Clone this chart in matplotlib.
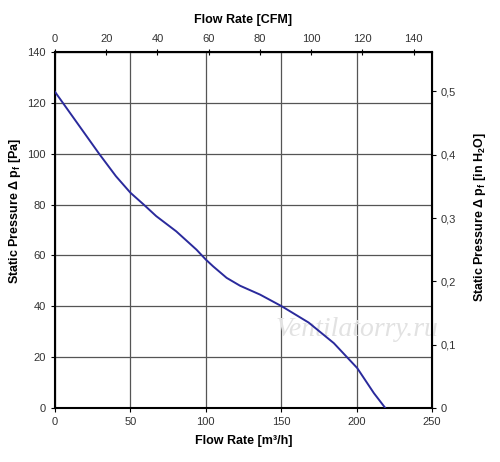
import numpy as np
import matplotlib.pyplot as plt

# fan curve: flow [m3/h] vs static pressure [Pa]
flow_m3h = [0, 29.3, 40.4, 50, 58.9, 67.1, 80.4, 93.8, 100, 104.9, 113.8,
            122.7, 136, 150.4, 168.2, 184.9, 200.4, 211.5, 219]
pressure_pa = [124.4, 100, 91.2, 84.7, 80, 75.5, 69.5, 62.3, 58.4, 55.7, 51.2,
               48.1, 44.6, 40, 33.6, 25.5, 15.7, 5.8, 0]

x_ticks = [0, 50, 100, 150, 200, 250]
y_ticks = [0, 20, 40, 60, 80, 100, 120, 140]
cfm_ticks = [0, 20, 40, 60, 80, 100, 120, 140]
inh2o_ticks = [0, 0.1, 0.2, 0.3, 0.4, 0.5]

M3H_PER_CFM = 1.699
PA_PER_INH2O = 249.09

plt.rcParams['font.family'] = ['Liberation Sans', 'DejaVu Sans']

fig = plt.figure(figsize=(5, 4.62), dpi=100)
ax = fig.add_axes([0.11, 0.117, 0.754, 0.77])

ax.plot(flow_m3h, pressure_pa, color='#2a2a9c', lw=1.4, zorder=3)
ax.set_xlim(0, 250)
ax.set_ylim(0, 140)
ax.set_xticks(x_ticks)
ax.set_yticks(y_ticks)
ax.grid(True, color='#555555', lw=0.9)
for s in ax.spines.values():
    s.set_linewidth(1.5)
ax.tick_params(direction='out', length=3, labelsize=8, labelcolor='#333333')
ax.set_xlabel('Flow Rate [m³/h]', fontsize=9, fontweight='bold', labelpad=6)
ax.set_ylabel(r'Static Pressure Δ p$_\mathregular{f}$ [Pa]', fontsize=9,
              fontweight='bold')
ax.yaxis.set_label_coords(-0.085, 0.555)

top = ax.secondary_xaxis('top', functions=(lambda v: v / M3H_PER_CFM,
                                           lambda v: v * M3H_PER_CFM))
top.set_xticks(cfm_ticks)
top.tick_params(direction='inout', length=5, labelsize=8, labelcolor='#333333')
top.set_xlabel('Flow Rate [CFM]', fontsize=9, fontweight='bold', labelpad=8)

right = ax.secondary_yaxis('right', functions=(lambda v: v / PA_PER_INH2O,
                                               lambda v: v * PA_PER_INH2O))
right.set_yticks(inh2o_ticks)
right.set_yticklabels([('%g' % t).replace('.', ',') for t in inh2o_ticks])
right.tick_params(direction='out', length=3, labelsize=8, labelcolor='#333333')
fig.text(0.961, 0.53,
         r'Static Pressure Δ p$_\mathregular{f}$ [in H$_\mathregular{2}$O]',
         fontsize=9, fontweight='bold', rotation=90, ha='center', va='center')

# watermark
ax.text(0.80, 0.22, 'Ventilatorry.ru', transform=ax.transAxes, fontsize=20,
        style='italic', family='Liberation Serif', color='#e2e2e2',
        ha='center', va='center', zorder=2)

fig.savefig('out.png', dpi=100)
